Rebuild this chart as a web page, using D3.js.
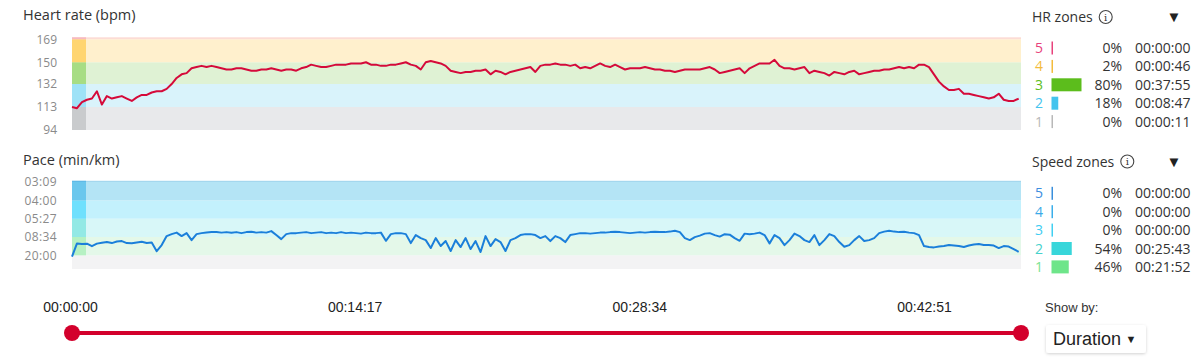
<!DOCTYPE html>
<html>
<head>
<meta charset="utf-8">
<script src="https://cdn.jsdelivr.net/npm/d3@7"></script>
<style>
  html, body { margin: 0; padding: 0; background: #fff; }
  svg { display: block; font-family: "Open Sans", "Noto Sans", sans-serif; }
</style>
</head>
<body>
<svg id="chart" width="1200" height="364"></svg>
<script>
// ---------------- DATA ----------------
const totalDuration = 2857;          // seconds
const sampleStep = 15;               // seconds between samples

const heartRate = [
  113,112,117,119,120,126,115,122,120,121,
  122,120,118,121,123,123,125,126,126,128,
  132,137,140,141,145,146,147,146,147,146,
  145,144,144,145,145,144,143,143,144,144,
  145,144,143,144,144,143,145,146,148,147,
  146,146,147,148,148,148,149,149,149,150,
  148,148,147,147,148,148,149,150,148,147,
  144,150,151,150,149,147,143,142,141,142,
  142,143,143,144,140,143,142,140,142,143,
  144,145,146,142,147,148,148,149,148,148,
  147,148,145,146,145,147,149,147,146,148,
  146,144,145,145,145,146,145,144,144,143,
  143,142,143,144,144,144,144,145,146,144,
  141,142,143,144,145,141,145,147,149,149,
  149,152,147,145,145,144,145,146,141,143,
  142,141,139,142,141,140,142,143,140,141,
  142,143,143,144,144,145,146,145,146,145,
  148,148,146,140,134,130,127,127,128,124,
  124,123,122,121,120,121,124,119,118,118,
  120
];

// speed in km/h (y axis labelled as pace min/km)
const speed = [
  2.7,5.6,5.45,5.55,5.0,5.55,5.74,5.89,5.67,6.0,
  6.11,5.67,5.61,5.78,5.95,5.67,5.78,3.9,5.23,7.2,
  7.63,7.96,7.2,7.85,6.32,7.63,7.85,8.0,8.07,8.11,
  7.96,8.07,7.92,8.07,7.85,8.07,8.14,7.96,8.07,7.96,
  8.29,7.42,6.54,7.63,7.85,7.85,7.96,8.07,7.85,7.96,
  8.07,7.85,7.96,7.85,8.07,7.85,7.96,7.85,7.74,7.96,
  7.85,7.85,7.96,6.17,7.63,7.85,7.85,7.63,5.67,7.42,
  6.76,6.32,4.58,6.76,5.02,6.11,3.93,6.32,4.8,6.76,
  4.36,6.11,3.71,7.2,5.02,6.54,5.89,3.93,6.32,6.76,
  7.42,7.63,7.63,7.42,6.76,7.2,6.11,7.2,6.76,5.89,
  7.42,7.63,7.85,7.85,7.74,7.85,7.96,7.96,8.07,8.14,
  8.07,7.96,7.85,7.96,8.07,7.96,8.07,8.14,8.07,8.07,
  8.18,8.35,8.07,6.76,6.32,6.98,7.31,7.74,7.85,7.42,
  7.09,7.63,7.52,6.76,6.17,7.74,7.63,7.74,7.96,7.42,
  5.61,7.42,6.76,5.23,6.32,7.74,7.2,6.32,5.89,7.42,
  5.23,6.32,7.63,7.2,5.89,4.86,5.23,6.32,7.2,6.11,
  6.32,6.76,7.85,8.18,8.35,8.18,8.07,8.14,7.96,7.85,
  7.42,5.02,4.8,4.73,4.91,5.02,5.23,5.13,5.02,4.8,
  5.13,5.34,5.45,5.23,5.23,5.13,4.58,5.02,4.91,4.36,
  3.77
];

const hrBounds = [94, 113, 132, 150, 169];
const hrTickLabels = ["94", "113", "132", "150", "169"];
const hrMax = 170.6;

const speedBounds = [3, 7, 11, 15, 19.05];
const paceTickLabels = ["20:00", "08:34", "05:27", "04:00", "03:09"];
const speedMax = 19.3;

const zoneIds = [5, 4, 3, 2, 1];
const hrZonePct = [0, 2, 80, 18, 0];
const hrZoneTime = ["00:00:00", "00:00:46", "00:37:55", "00:08:47", "00:00:11"];
const speedZonePct = [0, 0, 0, 54, 46];
const speedZoneTime = ["00:00:00", "00:00:00", "00:00:00", "00:25:43", "00:21:52"];

const sliderTicks = [0, 857, 1714, 2571];

// ---------------- STYLE ----------------
const hrBandColors   = ["#e8e9eb", "#d9f3fb", "#dff2d4", "#fff0cd", "#fcdcd5"]; // zone1..5
const hrStripColors  = ["#c9cbcd", "#9ee2f7", "#a7dd84", "#ffd570", "#f7b9c0"];
const spBandColors   = ["#e4f8e9", "#d8f7f8", "#c3f1fd", "#b4e4f5", "#9fd5ee"];
const spStripColors  = ["#b6f1c3", "#93e9e5", "#6fe0fd", "#6bc7ed", "#5cb8e6"];
const hrZoneColors   = {5: "#e8427c", 4: "#f3bc3c", 3: "#5cbd1c", 2: "#44c4ee", 1: "#b8b8b8"};
const spZoneColors   = {5: "#3a8fdc", 4: "#3aaeea", 3: "#40d0f2", 2: "#38d6da", 1: "#6ee58a"};
const spLabelColors  = {5: "#3d8ee0", 4: "#3aaae8", 3: "#3fcdf2", 2: "#46d2cc", 1: "#7be38f"};

const svg = d3.select("#chart");
const X0 = 72, X1 = 1021;
const x = d3.scaleLinear().domain([0, totalDuration]).range([X0, X1]);

// ---------- Heart rate chart ----------
const yHR = d3.scaleLinear().domain([94, hrMax]).range([130, 37.3]);
const hrEdges = hrBounds.concat([hrMax]);

svg.append("text").attr("x", 23).attr("y", 20).attr("font-size", 14.5).attr("fill", "#333").text("Heart rate (bpm)");

const hrG = svg.append("g");
hrG.selectAll("rect.band").data(d3.range(5)).join("rect")
  .attr("x", X0).attr("width", X1 - X0)
  .attr("y", i => yHR(hrEdges[i + 1])).attr("height", i => yHR(hrEdges[i]) - yHR(hrEdges[i + 1]))
  .attr("fill", i => hrBandColors[i]);
hrG.selectAll("rect.strip").data(d3.range(5)).join("rect")
  .attr("x", X0).attr("width", 14)
  .attr("y", i => yHR(hrEdges[i + 1])).attr("height", i => yHR(hrEdges[i]) - yHR(hrEdges[i + 1]))
  .attr("fill", i => hrStripColors[i]);

const hrAxis = d3.axisLeft(yHR).tickValues(hrBounds).tickSize(0).tickPadding(0)
  .tickFormat((d, i) => hrTickLabels[i]);
svg.append("g").attr("transform", "translate(57,0)").call(hrAxis)
  .call(g => g.select(".domain").remove())
  .call(g => g.selectAll("text").attr("fill", "#8a8a8a").attr("font-size", 12)
    .attr("font-family", "'Open Sans', sans-serif"));

svg.append("path").datum(heartRate)
  .attr("fill", "none").attr("stroke", "#d50a3a").attr("stroke-width", 2).attr("stroke-linejoin", "round")
  .attr("d", d3.line().x((d, i) => x(i * sampleStep)).y(d => yHR(d)));

// ---------- Pace chart ----------
const ySp = d3.scaleLinear().domain([0, speedMax]).range([269, 180.8]);
const spEdges = speedBounds.concat([speedMax]);

svg.append("text").attr("x", 23).attr("y", 165).attr("font-size", 14.5).attr("fill", "#333").text("Pace (min/km)");

const spG = svg.append("g");
spG.append("rect").attr("x", X0).attr("width", X1 - X0)
  .attr("y", ySp(speedBounds[0])).attr("height", ySp(0) - ySp(speedBounds[0])).attr("fill", "#f3f3f4");
spG.selectAll("rect.band").data(d3.range(5)).join("rect")
  .attr("x", X0).attr("width", X1 - X0)
  .attr("y", i => ySp(spEdges[i + 1])).attr("height", i => ySp(spEdges[i]) - ySp(spEdges[i + 1]))
  .attr("fill", i => spBandColors[i]);
spG.selectAll("rect.strip").data(d3.range(5)).join("rect")
  .attr("x", X0).attr("width", 14)
  .attr("y", i => ySp(spEdges[i + 1])).attr("height", i => ySp(spEdges[i]) - ySp(spEdges[i + 1]))
  .attr("fill", i => spStripColors[i]);

const spAxis = d3.axisLeft(ySp).tickValues(speedBounds).tickSize(0).tickPadding(0)
  .tickFormat((d, i) => paceTickLabels[i]);
svg.append("g").attr("transform", "translate(57,0)").call(spAxis)
  .call(g => g.select(".domain").remove())
  .call(g => g.selectAll("text").attr("fill", "#8a8a8a").attr("font-size", 12)
    .attr("letter-spacing", 0.4).attr("font-family", "'Open Sans', sans-serif"));

svg.append("path").datum(speed)
  .attr("fill", "none").attr("stroke", "#1b7fda").attr("stroke-width", 2).attr("stroke-linejoin", "round")
  .attr("d", d3.line().x((d, i) => x(i * sampleStep)).y(d => ySp(d)));

// ---------- Zone legends ----------
const barW = d3.scaleLinear().domain([0, 80]).range([0, 30]);
function legend(title, titleY, rowY0, pcts, times, barColors, labelColors) {
  const g = svg.append("g");
  g.append("text").attr("x", 1032).attr("y", titleY + 5).attr("font-size", 14).attr("fill", "#333").text(title);
  const tw = g.select("text").node().getComputedTextLength();
  const cx = 1032 + tw + 13;
  g.append("circle").attr("cx", cx).attr("cy", titleY).attr("r", 6.5).attr("fill", "none").attr("stroke", "#444").attr("stroke-width", 1.1);
  g.append("text").attr("x", cx).attr("y", titleY + 3.8).attr("text-anchor", "middle").attr("font-size", 10)
    .attr("font-family", "'DejaVu Serif', serif").attr("fill", "#333").text("i");
  g.append("text").attr("x", 1174).attr("y", titleY + 5).attr("text-anchor", "middle").attr("font-size", 15).attr("fill", "#222").text("▼");
  const rows = g.selectAll("g.row").data(zoneIds).join("g")
    .attr("transform", (d, i) => `translate(0,${rowY0 + i * 18.4})`);
  rows.append("text").attr("x", 1035).attr("y", 5).attr("font-size", 14)
    .attr("fill", d => labelColors[d]).text(d => d);
  rows.append("rect").attr("x", 1051.5).attr("y", -6.5).attr("height", 13)
    .attr("width", (d, i) => Math.max(1.5, barW(pcts[i]))).attr("fill", d => barColors[d]);
  rows.append("text").attr("x", 1122).attr("y", 5).attr("text-anchor", "end").attr("font-size", 14).attr("fill", "#333")
    .text((d, i) => pcts[i] + "%");
  rows.append("text").attr("x", 1135).attr("y", 5).attr("font-size", 14).attr("fill", "#333")
    .text((d, i) => times[i]);
}
legend("HR zones", 17, 48, hrZonePct, hrZoneTime, hrZoneColors, hrZoneColors);
legend("Speed zones", 161.5, 193.3, speedZonePct, speedZoneTime, spZoneColors, spLabelColors);

// ---------- Slider ----------
const fmt = s => [Math.floor(s / 3600), Math.floor(s / 60) % 60, s % 60].map(v => String(v).padStart(2, "0")).join(":");
svg.append("g").selectAll("text").data(sliderTicks).join("text")
  .attr("x", d => x(d) - 1.5).attr("y", 312).attr("text-anchor", "middle")
  .attr("font-family", "'Liberation Sans', Arial, sans-serif").attr("font-size", 14).attr("fill", "#222")
  .text(d => fmt(d));
svg.append("line").attr("x1", x(0)).attr("x2", x(totalDuration)).attr("y1", 333).attr("y2", 333)
  .attr("stroke", "#d3002c").attr("stroke-width", 4);
svg.selectAll("circle.handle").data([0, totalDuration]).join("circle")
  .attr("cx", d => x(d)).attr("cy", 333).attr("r", 8).attr("fill", "#d3002c");

// ---------- Show by ----------
svg.append("text").attr("x", 1045).attr("y", 312).attr("font-family", "'Liberation Sans', Arial, sans-serif")
  .attr("font-size", 13).attr("fill", "#333").text("Show by:");
const defs = svg.append("defs");
const f = defs.append("filter").attr("id", "sh").attr("x", "-20%").attr("y", "-30%").attr("width", "140%").attr("height", "160%");
f.append("feDropShadow").attr("dx", 0).attr("dy", 1).attr("stdDeviation", 1.5).attr("flood-color", "#000").attr("flood-opacity", 0.18);
svg.append("rect").attr("x", 1046).attr("y", 325).attr("width", 100).attr("height", 28).attr("rx", 3)
  .attr("fill", "#fff").attr("filter", "url(#sh)");
svg.append("text").attr("x", 1053).attr("y", 345).attr("font-family", "'Liberation Sans', Arial, sans-serif")
  .attr("font-size", 18).attr("fill", "#222").text("Duration");
svg.append("text").attr("x", 1131).attr("y", 343).attr("text-anchor", "middle").attr("font-size", 11).attr("fill", "#222").text("▼");
</script>
</body>
</html>
